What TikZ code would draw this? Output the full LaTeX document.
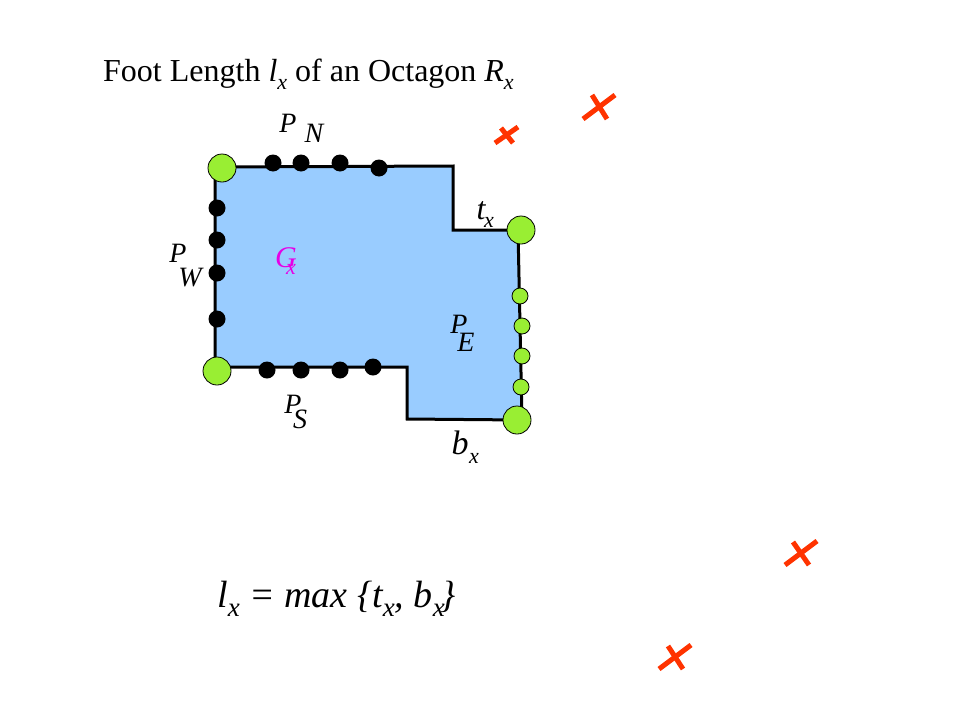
\documentclass[tikz,border=0pt]{standalone}
\usepackage{fontspec}
\setmainfont{Liberation Serif}
\definecolor{regionblue}{RGB}{153,204,255}
\definecolor{dotgreen}{RGB}{153,238,51}
\definecolor{crossred}{RGB}{255,51,0}
\definecolor{gmag}{RGB}{230,0,230}
\newcommand{\sbx}[1]{\raisebox{-8pt}{\fontsize{22}{24}\selectfont\itshape #1}}
\begin{document}
\begin{tikzpicture}[x=1pt,y=-1pt,
  lab/.style={font=\fontsize{28}{30}\selectfont\itshape, inner sep=0pt, anchor=base},
  sublab/.style={font=\fontsize{22}{24}\selectfont\itshape, inner sep=0pt, anchor=base},
  blackdot/.style={circle, fill=black, inner sep=0pt, minimum size=17pt},
  biggreen/.style={circle, fill=dotgreen, draw=black, line width=0.8pt, inner sep=0pt, minimum size=28pt},
  smallgreen/.style={circle, fill=dotgreen, draw=black, line width=0.8pt, inner sep=0pt, minimum size=16pt},
  crossline/.style={draw=crossred, line width=5pt},
  region/.style={fill=regionblue, draw=black, line width=3pt, line join=miter}]
\useasboundingbox (0,0) rectangle (960,720);
% octagon
\coordinate (v1) at (215,167);
\coordinate (v2) at (453,166);
\coordinate (v3) at (453,230);
\coordinate (v4) at (518,230);
\coordinate (v5) at (522,420);
\coordinate (v6) at (407,419);
\coordinate (v7) at (407,367);
\coordinate (v8) at (215,367);
\path[region] (v1) -- (v2) -- (v3) -- (v4) -- (v5) -- (v6) -- (v7) -- (v8) -- cycle;
% black dots
\node[blackdot] (n1) at (273,163) {};
\node[blackdot] (n2) at (301,163) {};
\node[blackdot] (n3) at (340,163) {};
\node[blackdot] (n4) at (379,168) {};
\node[blackdot] (w1) at (217,208) {};
\node[blackdot] (w2) at (217,240) {};
\node[blackdot] (w3) at (217,273) {};
\node[blackdot] (w4) at (217,319) {};
\node[blackdot] (s1) at (267,370) {};
\node[blackdot] (s2) at (301,370) {};
\node[blackdot] (s3) at (340,370) {};
\node[blackdot] (s4) at (373,367) {};
% green dots
\node[smallgreen] (e1) at (520,296) {};
\node[smallgreen] (e2) at (522,326) {};
\node[smallgreen] (e3) at (522,356) {};
\node[smallgreen] (e4) at (521,387) {};
\node[biggreen] (g1) at (222,168) {};
\node[biggreen] (g2) at (521,230) {};
\node[biggreen] (g3) at (217,371) {};
\node[biggreen] (g4) at (517,420) {};
% labels
\node[lab] (pn) at (288,132) {P};
\node[lab] (pnsub) at (314,142) {N};
\node[lab] (pw) at (178,262) {P};
\node[lab] (pwsub) at (190,286) {W};
\node[lab, text=gmag, font=\fontsize{30}{32}\selectfont\itshape] (gx) at (286,267) {G};
\node[sublab, text=gmag] (gxsub) at (291,274) {x};
\node[lab, font=\fontsize{32}{34}\selectfont\itshape] (tx) at (481,219) {t};
\node[sublab] (txsub) at (489,227) {x};
\node[lab] (pe) at (459,333) {P};
\node[lab] (pesub) at (466,351) {E};
\node[lab] (ps) at (293,413) {P};
\node[lab] (pssub) at (300,428) {S};
\node[lab, font=\fontsize{34}{36}\selectfont\itshape] (bx) at (460,454) {b};
\node[sublab] (bxsub) at (474,463) {x};
% title
\node[anchor=base west, inner sep=0pt, font=\fontsize{32}{34}\selectfont] (title) at (103,81)
  {Foot Length \textit{l}\sbx{x} of an Octagon \textit{R}\sbx{x}};
% formula
\node[anchor=base west, inner sep=0pt, font=\fontsize{38}{40}\selectfont\itshape] (formula) at (217,607)
  {l\raisebox{-9pt}{\fontsize{27}{28}\selectfont x} = max \{t\raisebox{-9pt}{\fontsize{27}{28}\selectfont x}, b\raisebox{-9pt}{\fontsize{27}{28}\selectfont x}\kern-4pt\}};
% crosses
\path[crossline] (495,143) -- (518,127);
\path[crossline] (501,128) -- (513,143);
\path[crossline] (583,119) -- (615,95);
\path[crossline] (592,95) -- (607,119);
\path[crossline] (785,565) -- (817,541);
\path[crossline] (793,542) -- (809,565);
\path[crossline] (659,669) -- (691,645);
\path[crossline] (668,646) -- (683,669);
\end{tikzpicture}
\end{document}
